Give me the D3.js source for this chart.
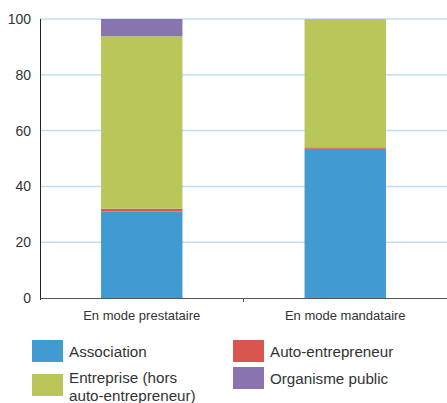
<!DOCTYPE html>
<html>
<head>
<meta charset="utf-8">
<script src="https://cdn.jsdelivr.net/npm/d3@7"></script>
<style>
  body { margin: 0; background: #fff; }
  svg { display: block; font-family: "Liberation Sans", Arial, sans-serif; }
</style>
</head>
<body>
<div id="chart"></div>
<script>
// data
const categories = ["En mode prestataire", "En mode mandataire"];
const seriesNames = ["Association", "Auto-entrepreneur", "Entreprise (hors auto-entrepreneur)", "Organisme public"];
const association = [31, 53.5];
const autoEntrepreneur = [1, 0.5];
const entreprise = [61.8, 46];
const organismePublic = [6.2, 0];
const yTicks = [0, 20, 40, 60, 80, 100];

const colors = ["#419bd0", "#d95550", "#b8c65a", "#8874ae"];

const wsvg = 447, hsvg = 403;
const plotLeft = 40, plotRight = 447, plotTop = 19, plotBottom = 298;

const svg = d3.select("#chart").append("svg")
    .attr("width", wsvg)
    .attr("height", hsvg);

const xScale = d3.scaleBand(categories, [plotLeft, plotRight])
    .paddingInner(0.6)
    .paddingOuter(0.3);
const yScale = d3.scaleLinear([0, 100], [plotBottom, plotTop]);

// gridlines
svg.append("g")
    .selectAll("line")
    .data(yTicks.filter(d => d > 0))
    .join("line")
    .attr("x1", plotLeft)
    .attr("x2", plotRight)
    .attr("y1", d => yScale(d))
    .attr("y2", d => yScale(d))
    .attr("stroke", "#bfe0f4")
    .attr("stroke-width", 1.5);

// stacked bars
const rows = categories.map((c, i) => ({
    cat: c,
    "Association": association[i],
    "Auto-entrepreneur": autoEntrepreneur[i],
    "Entreprise (hors auto-entrepreneur)": entreprise[i],
    "Organisme public": organismePublic[i]
}));
const stack = d3.stack().keys(seriesNames)(rows);

svg.append("g")
    .selectAll("g")
    .data(stack)
    .join("g")
    .attr("fill", (d, i) => colors[i])
    .selectAll("rect")
    .data(d => d)
    .join("rect")
    .attr("x", d => xScale(d.data.cat))
    .attr("width", xScale.bandwidth())
    .attr("y", d => yScale(d[1]))
    .attr("height", d => yScale(d[0]) - yScale(d[1]));

// y axis
const yAxisG = svg.append("g");
yAxisG.append("line")
    .attr("x1", plotLeft + 0.5).attr("x2", plotLeft + 0.5)
    .attr("y1", plotTop).attr("y2", plotBottom + 2)
    .attr("stroke", "#222").attr("stroke-width", 1);
yAxisG.selectAll("text")
    .data(yTicks)
    .join("text")
    .attr("x", 31)
    .attr("y", d => yScale(d))
    .attr("dy", "0.35em")
    .attr("text-anchor", "end")
    .attr("font-size", 14)
    .attr("fill", "#333")
    .text(d => d);

// x axis
const midX = (xScale(categories[0]) + xScale(categories[1]) + xScale.bandwidth()) / 2;
const xAxisG = svg.append("g");
xAxisG.append("line")
    .attr("x1", plotLeft).attr("x2", plotRight)
    .attr("y1", plotBottom + 0.5).attr("y2", plotBottom + 0.5)
    .attr("stroke", "#555").attr("stroke-width", 1);
xAxisG.append("line")
    .attr("x1", midX).attr("x2", midX)
    .attr("y1", plotBottom).attr("y2", plotBottom + 4)
    .attr("stroke", "#555");
xAxisG.selectAll("text")
    .data(categories)
    .join("text")
    .attr("x", d => xScale(d) + xScale.bandwidth() / 2)
    .attr("y", 320)
    .attr("text-anchor", "middle")
    .attr("font-size", 13)
    .attr("fill", "#333")
    .text(d => d);

// legend
const legendItems = [
    { label: ["Association"], color: colors[0], x: 32, y: 340 },
    { label: ["Auto-entrepreneur"], color: colors[1], x: 233, y: 340 },
    { label: ["Entreprise (hors", "auto-entrepreneur)"], color: colors[2], x: 32, y: 374 },
    { label: ["Organisme public"], color: colors[3], x: 233, y: 367 }
];
const lg = svg.append("g")
    .selectAll("g")
    .data(legendItems)
    .join("g")
    .attr("transform", d => `translate(${d.x},${d.y})`);
lg.append("rect")
    .attr("width", 31)
    .attr("height", 22)
    .attr("fill", d => d.color);
lg.each(function (d) {
    const t = d3.select(this).append("text")
        .attr("font-size", 15.2)
        .attr("fill", "#333");
    const baseY = d.label.length > 1 ? 9 : 17;
    d.label.forEach((l, i) => {
        t.append("tspan").attr("x", 37).attr("y", baseY + i * 17.5).text(l);
    });
});
</script>
</body>
</html>
